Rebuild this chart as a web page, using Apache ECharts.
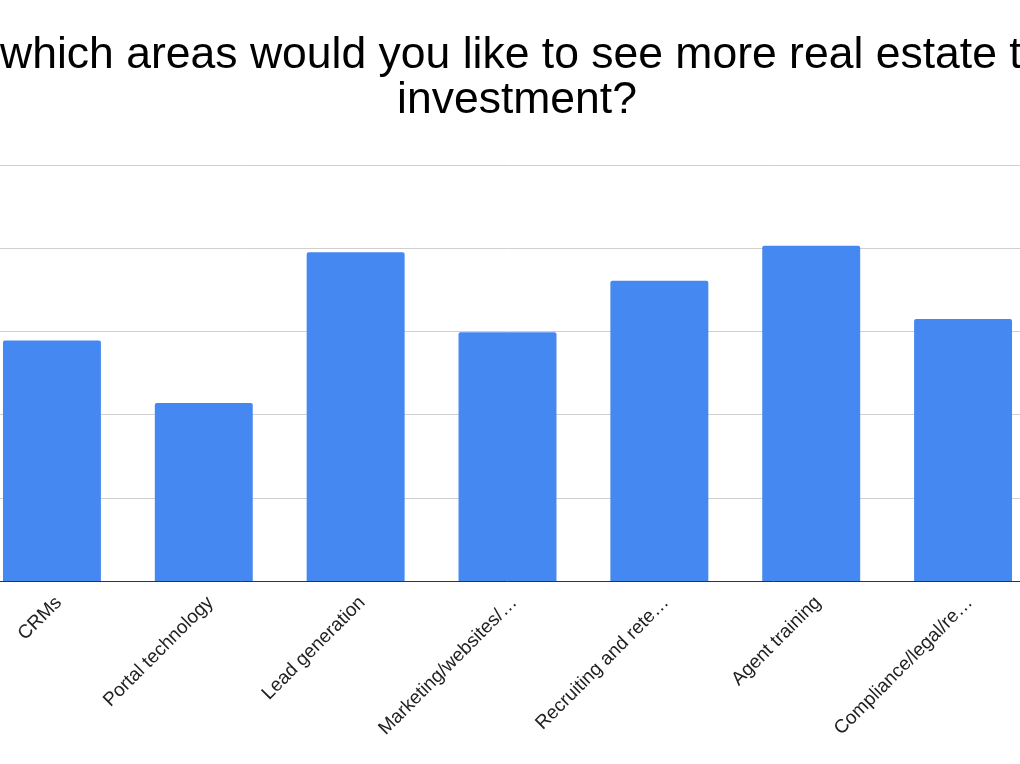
<!DOCTYPE html>
<html>
<head>
<meta charset="utf-8">
<script src="https://cdn.jsdelivr.net/npm/echarts@6/dist/echarts.min.js"></script>
<style>
html,body{margin:0;padding:0;background:#fff;overflow:hidden;width:1020px;height:764px;position:relative;}
#chart{position:absolute;left:-24px;top:0;width:1063px;height:764px;}
</style>
</head>
<body>
<div id="chart"></div>
<script>
const titleLines = ["In which areas would you like to see more real estate tech", "investment?"];
const categories = ["CRMs", "Portal technology", "Lead generation", "Marketing/websites/\u2026", "Recruiting and rete\u2026", "Agent training", "Compliance/legal/re\u2026"];
const values = [28.9, 21.4, 39.5, 29.9, 36.1, 40.3, 31.5];
const yTicks = [0, 10, 20, 30, 40, 50];

const titleStyle = {
  fontFamily: 'Liberation Sans, Arial, sans-serif',
  fontSize: 44.5,
  fontWeight: 'normal',
  color: '#000000',
  lineHeight: 45
};

const chart = echarts.init(document.getElementById('chart'));
chart.setOption({
  animation: false,
  backgroundColor: '#ffffff',
  title: [
    { text: titleLines[0], left: 546, top: 33, padding: 0, textAlign: 'center', textStyle: titleStyle },
    { text: titleLines[1], left: 541, top: 78, padding: 0, textAlign: 'center', textStyle: titleStyle }
  ],
  grid: {
    left: 0,
    right: 0,
    top: 165,
    bottom: 183,
    containLabel: false
  },
  xAxis: {
    type: 'category',
    data: categories,
    axisTick: { show: false },
    axisLine: { show: true, lineStyle: { color: '#333333', width: 1 } },
    axisLabel: {
      rotate: 45,
      interval: 0,
      margin: 12,
      verticalAlign: 'top',
      fontFamily: 'Liberation Sans, Arial, sans-serif',
      fontSize: 19,
      color: '#222222'
    }
  },
  yAxis: {
    type: 'value',
    min: yTicks[0],
    max: yTicks[yTicks.length - 1],
    interval: yTicks[1] - yTicks[0],
    axisLabel: { show: false },
    axisLine: { show: false },
    axisTick: { show: false },
    splitLine: { show: true, lineStyle: { color: '#d0d0d0', width: 1 } }
  },
  series: [{
    type: 'bar',
    data: values,
    barCategoryGap: '35.5%',
    itemStyle: { color: '#4688F1', borderRadius: [2, 2, 0, 0] }
  }]
});
</script>
</body>
</html>
